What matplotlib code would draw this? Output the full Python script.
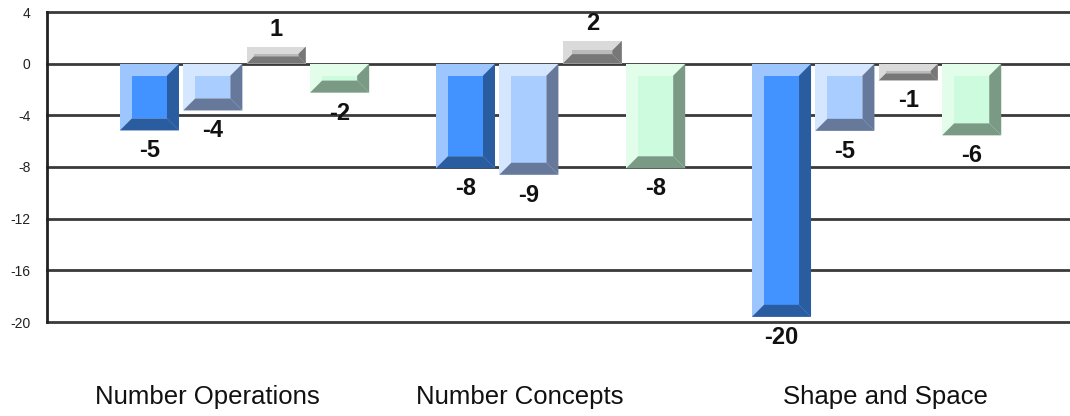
import matplotlib
matplotlib.use("Agg")
import matplotlib.pyplot as plt
from matplotlib.patches import Polygon, Rectangle

# ---- data ----
categories = ["Number Operations", "Number Concepts", "Shape and Space"]
series1 = [-5.17, -8.1, -19.6]
series2 = [-3.62, -8.6, -5.2]
series3 = [1.32, 1.76, -1.3]
series4 = [-2.24, -8.1, -5.55]
y_ticks = [4, 0, -4, -8, -12, -16, -20]

# ---- styles (light face, inner face, shadow) ----
styles = [
    ("#9dc6ff", "#4292ff", "#2a5ca0"),
    ("#d5e6ff", "#aacdff", "#66799b"),
    ("#dadada", "#bababa", "#777777"),
    ("#e2fdea", "#ccfbde", "#7a9a86"),
]

W, H, DPI = 1070, 416, 100
fig = plt.figure(figsize=(W / DPI, H / DPI), dpi=DPI)
ax_left, ax_right, ax_top, ax_bot = 47, 1070, 12, 322
ax = fig.add_axes([ax_left / W, 1 - ax_bot / H, (ax_right - ax_left) / W, (ax_bot - ax_top) / H])

xmin, xmax = -0.625, 2.612
ax.set_xlim(xmin, xmax)
ax.set_ylim(-20, 4)

dx_pp = (xmax - xmin) / (ax_right - ax_left)
dy_pp = 24.0 / (ax_bot - ax_top)

pitch = 0.2006
width = 0.187
all_series = [series1, series2, series3, series4]
for j, vals in enumerate(all_series):
    light, inner, dark = styles[j]
    xs = [i + (j - 1.5) * pitch for i in range(len(categories))]
    bars = ax.bar(xs, vals, width=width, color=light, zorder=3, linewidth=0)
    for r, v in zip(bars.patches, vals):
        x0 = r.get_x()
        x1 = x0 + r.get_width()
        ylo = min(r.get_y(), r.get_y() + r.get_height())
        yhi = max(r.get_y(), r.get_y() + r.get_height())
        h_px = (yhi - ylo) / dy_pp
        b = min(12.0, 0.42 * h_px)
        bx, by = b * dx_pp, b * dy_pp
        ax.add_patch(Rectangle((x0 + bx, ylo + by), (x1 - x0) - 2 * bx, (yhi - ylo) - 2 * by,
                               facecolor=inner, edgecolor="none", zorder=4))
        ax.add_patch(Polygon([(x1, yhi), (x1, ylo), (x1 - bx, ylo + by), (x1 - bx, yhi - by)],
                             closed=True, facecolor=dark, edgecolor="none", zorder=5))
        ax.add_patch(Polygon([(x0, ylo), (x1, ylo), (x1 - bx, ylo + by), (x0 + bx, ylo + by)],
                             closed=True, facecolor=dark, edgecolor="none", zorder=5))
        cx = x0 + r.get_width() / 2
        if v < 0:
            ax.annotate(f"{round(v):d}", (cx, ylo), xytext=(0, -6.5), textcoords="offset points",
                        ha="center", va="top", fontsize=17, fontweight="bold",
                        family="Liberation Sans", color="#111111", zorder=6, annotation_clip=False)
        else:
            ax.annotate(f"{round(v):d}", (cx, yhi), xytext=(0, 4), textcoords="offset points",
                        ha="center", va="bottom", fontsize=17, fontweight="bold",
                        family="Liberation Sans", color="#111111", zorder=6, annotation_clip=False)

# grid & axes
ax.set_yticks(y_ticks)
ax.set_yticklabels([str(t) for t in y_ticks], family="Liberation Sans", fontsize=10, color="#222222")
ax.tick_params(axis="y", length=0, pad=12)
ax.set_xticks([])
for t in y_ticks:
    ax.axhline(t, color="#3a3a3a", linewidth=2.0, zorder=1, clip_on=False)
for s in ["top", "right", "bottom"]:
    ax.spines[s].set_visible(False)
ax.spines["left"].set_linewidth(2.0)
ax.spines["left"].set_color("#222222")

# category labels
label_x_px = [207, 520, 885]
for lab, px in zip(categories, label_x_px):
    fig.text(px / W, 1 - 397 / H, lab, ha="center", va="center", fontsize=18.5,
             family="Liberation Sans", color="#111111")

fig.savefig("out.png", dpi=DPI)
